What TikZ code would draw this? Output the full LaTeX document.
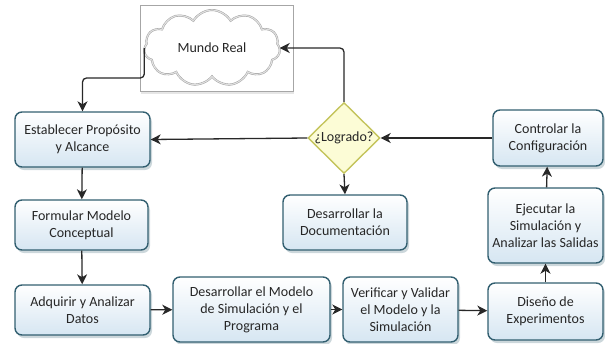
\documentclass[tikz,border=0pt]{standalone}
\usepackage{fontspec}
\setmainfont{Carlito}
\usepackage{tikz}
\usetikzlibrary{shapes, shapes.geometric, shapes.symbols, arrows.meta, positioning, shadows}

\definecolor{boxedge}{RGB}{50, 95, 112}
\definecolor{boxfill}{RGB}{214, 230, 242}
\definecolor{diamedge}{RGB}{196, 196, 92}
\definecolor{diamfill}{RGB}{252, 252, 214}
\definecolor{arrowgray}{RGB}{40, 40, 40}

\tikzset{
  stepbox/.style={draw=boxedge, line width=1.4pt, rounded corners=7pt, top color=white, bottom color=boxfill,
    align=center, font=\fontsize{14}{17}\selectfont, inner sep=2pt, text=black!85,
    drop shadow={shadow xshift=2pt, shadow yshift=-3pt, opacity=0.25, fill=boxedge}},
  flow/.style={-{Stealth[length=10pt, width=10pt, inset=3pt]}, arrowgray, line width=1.3pt}
}

\begin{document}
\begin{tikzpicture}[x=1pt, y=-1pt]
  \useasboundingbox (0, 0) rectangle (605, 343);

  % Mundo real (frame + cloud)
  \node[draw=gray!70, fill=white, minimum width=153pt, minimum height=86pt, inner sep=0pt,
    drop shadow={shadow xshift=1pt, shadow yshift=-3pt, opacity=0.2}] (frame) at (216.5, 48) {};
  \node[cloud, cloud puffs=11, cloud puff arc=120, aspect=1.8, draw=gray!80, double=gray!25, double distance=1.2pt,
    fill=white, minimum width=136pt, minimum height=76pt, inner sep=0pt, text=black!85,
    font=\fontsize{14}{17}\selectfont] (mundo) at (212, 48) {Mundo Real};

  % Left column
  \node[stepbox, minimum width=135pt, minimum height=55pt] (estab) at (82.5, 139.5) {Establecer Propósito\\y Alcance};
  \node[stepbox, minimum width=133pt, minimum height=50pt] (formul) at (81.5, 225) {Formular Modelo\\Conceptual};
  \node[stepbox, minimum width=135pt, minimum height=50pt] (adquir) at (82.5, 310) {Adquirir y Analizar\\Datos};

  % Bottom row
  \node[stepbox, minimum width=157pt, minimum height=65pt] (desmod) at (251.5, 309.5) {Desarrollar el Modelo\\de Simulación y el\\Programa};
  \node[stepbox, minimum width=115pt, minimum height=65pt] (verif) at (400.5, 309.5) {Verificar y Validar\\el Modelo y la\\Simulación};
  \node[stepbox, minimum width=115pt, minimum height=57pt] (diseno) at (545.5, 311.5) {Diseño de\\Experimentos};

  % Right column
  \node[stepbox, minimum width=115pt, minimum height=75pt] (ejec) at (545.5, 225.5) {Ejecutar la\\Simulación y\\Analizar las Salidas};
  \node[stepbox, minimum width=110pt, minimum height=56pt] (control) at (548, 138) {Controlar la\\Configuración};

  % Decision
  \node[diamond, draw=diamedge, line width=1.4pt, fill=diamfill, minimum width=72pt, minimum height=70pt,
    inner sep=0pt, text=black!85, font=\fontsize{14}{17}\selectfont] (logrado) at (344, 138) {¿Logrado?};
  \node[stepbox, minimum width=124pt, minimum height=55pt] (desdoc) at (345, 222.5) {Desarrollar la\\Documentación};

  % Connectors
  \draw[flow, rounded corners=4pt] (mundo.west) -- ++(0, 30) -| (estab.north);
  \draw[flow] (estab) -- (formul);
  \draw[flow] (formul) -- (adquir);
  \draw[flow] (adquir) -- (desmod);
  \draw[flow] (desmod) -- (verif);
  \draw[flow] (verif) -- (diseno);
  \draw[flow] (diseno) -- (ejec);
  \draw[flow] (ejec) -- (control);
  \draw[flow] (control) -- (logrado);
  \draw[flow] (logrado.west) -- (estab.east);
  \draw[flow] (logrado.south) -- (desdoc.north);
  \draw[flow, rounded corners=4pt] (logrado.north) |- (mundo.east);
\end{tikzpicture}
\end{document}
